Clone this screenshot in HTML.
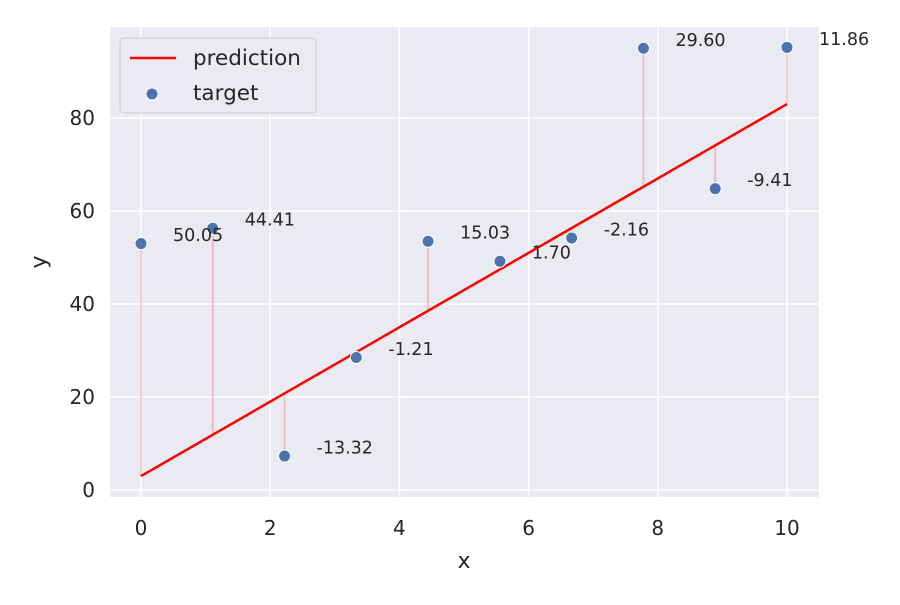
<!DOCTYPE html>
<html><head><meta charset="utf-8"><style>
body{margin:0;background:#fff;}
svg{font-family:"DejaVu Sans","Liberation Sans",sans-serif;}
</style></head><body>
<svg id="chart" width="900" height="600" viewBox="0 0 900 600">
<rect x="110" y="27" width="709" height="470" fill="#eaeaf2"/>
<g id="grid"></g><g id="resid"></g><g id="line"></g><g id="pts"></g><g id="labels"></g><g id="ticks"></g>
<text x="464" y="568" font-size="22" fill="#262626" text-anchor="middle">x</text>
<text x="46" y="262" font-size="22" fill="#262626" text-anchor="middle" transform="rotate(-90 46 262)">y</text>
<g>
<rect x="120" y="38" width="196" height="75" rx="4" fill="#eaeaf2" stroke="#cccccc"/>
<line x1="130" y1="58" x2="176" y2="58" stroke="#ff0000" stroke-width="2.5"/>
<text x="193" y="65" font-size="21.5" fill="#262626">prediction</text>
<circle cx="152" cy="94" r="6" fill="#4c72b0" stroke="#fff" stroke-width="1"/>
<text x="193" y="100" font-size="21.5" fill="#262626">target</text>
</g>
</svg>
<script>
const xs=[0,1.111,2.222,3.333,4.444,5.556,6.667,7.778,8.889,10];
const targets=[53.0,56.3,7.3,28.5,53.5,49.2,54.2,95.0,64.8,95.2];
const intercept=3.0, slope=8.0;
const residLabels=["50.05","44.41","-13.32","-1.21","15.03","1.70","-2.16","29.60","-9.41","11.86"];
const xTicks=[0,2,4,6,8,10];
const yTicks=[0,20,40,60,80];
const NS="http://www.w3.org/2000/svg";
const X=v=>141+v*64.6, Y=v=>490-v*4.65;
function mk(p,t,a){const e=document.createElementNS(NS,t);for(const k in a)e.setAttribute(k,a[k]);document.getElementById(p).appendChild(e);return e;}
xTicks.forEach(t=>{
 const g=mk('grid','line',{x1:X(t),x2:X(t),y1:27,y2:497,stroke:'#fff','stroke-width':1.6});
 
 
 const l=mk('ticks','text',{x:X(t),y:535,'font-size':20,fill:'#262626','text-anchor':'middle'});l.textContent=t;
 
 
});
yTicks.forEach(t=>{
 const g=mk('grid','line',{x1:110,x2:819,y1:Y(t),y2:Y(t),stroke:'#fff','stroke-width':1.6});
 
 
 const l=mk('ticks','text',{x:95,y:Y(t)+7,'font-size':20,fill:'#262626','text-anchor':'end'});l.textContent=t;
 
 
});
const pred=x=>intercept+slope*x;
xs.forEach((x,i)=>{
 const r=mk('resid','line',{x1:X(x),x2:X(x),y1:Y(targets[i]),y2:Y(pred(x)),stroke:'#ff0000','stroke-opacity':0.2,'stroke-width':2});
 
 
 const c=mk('pts','circle',{cx:X(x),cy:Y(targets[i]),r:6,fill:'#4c72b0',stroke:'#fff','stroke-width':1});
 
 
 const t=mk('labels','text',{x:X(x)+32,y:Y(targets[i])-2.5,'font-size':17.5,fill:'#262626'});t.textContent=residLabels[i];
 
 
});
const pl=mk('line','line',{x1:X(xs[0]),y1:Y(pred(xs[0])),x2:X(xs[xs.length-1]),y2:Y(pred(xs[xs.length-1])),stroke:'#ff0000','stroke-width':2.5});


</script>
</body></html>
